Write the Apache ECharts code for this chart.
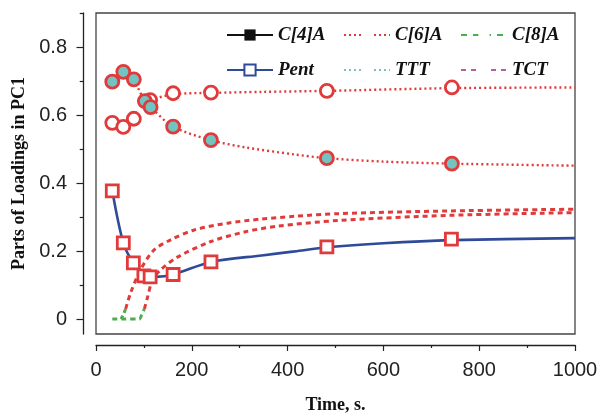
<!DOCTYPE html>
<html>
<head>
<meta charset="utf-8">
<script src="https://cdn.jsdelivr.net/npm/echarts@6/dist/echarts.min.js"></script>
<style>html,body{margin:0;padding:0;background:#fff;}#c{width:602px;height:416px;}</style>
</head>
<body>
<div id="c"></div>
<script>
// ---- data ----
var xTickLabels = [0, 200, 400, 600, 800, 1000];
var yMajorTicks = [0, 0.2, 0.4, 0.6, 0.8];
var yMinorTicks = [0.1, 0.3, 0.5, 0.7, 0.9];

var filledX = [34, 57, 79, 102, 114, 161, 240, 482, 743];
var filledY = [0.698, 0.727, 0.705, 0.641, 0.623, 0.566, 0.526, 0.473, 0.457];
var hollowX = [34, 57, 79, 113, 161, 240, 482, 743];
var hollowY = [0.577, 0.565, 0.589, 0.644, 0.664, 0.666, 0.671, 0.681];

var upperFitX = [113, 161, 240, 346, 482, 743, 1000];
var upperFitY = [0.644, 0.661, 0.665, 0.668, 0.671, 0.679, 0.681];
var lowerFitX = [79, 102, 114, 161, 240, 311, 415, 482, 600, 743, 1000];
var lowerFitY = [0.705, 0.641, 0.623, 0.566, 0.526, 0.505, 0.484, 0.473, 0.463, 0.457, 0.451];

var pentX = [34, 57, 78, 100, 113, 161, 240, 482, 742];
var pentY = [0.377, 0.224, 0.165, 0.127, 0.124, 0.131, 0.168, 0.212, 0.235];
var pentFitX = [34, 57, 78, 100, 125, 161, 240, 346, 415, 482, 600, 742, 1000];
var pentFitY = [0.377, 0.224, 0.165, 0.131, 0.124, 0.131, 0.168, 0.187, 0.199, 0.211, 0.223, 0.232, 0.238];

var rise1X = [62, 72, 93, 121, 156, 205, 275, 345, 414, 508, 740, 1000];
var rise1Y = [0.030, 0.076, 0.145, 0.203, 0.233, 0.262, 0.282, 0.294, 0.302, 0.310, 0.318, 0.323];
var rise2X = [101, 107, 118, 135, 170, 240, 310, 379, 508, 740, 1000];
var rise2Y = [0.030, 0.061, 0.115, 0.145, 0.182, 0.228, 0.256, 0.273, 0.290, 0.305, 0.313];

var greenBaseX = [34, 60, 90, 96, 101];
var greenBaseY = [0, 0, 0, 0.015, 0.030];
var greenBranchX = [52, 56, 62];
var greenBranchY = [0, 0.010, 0.030];

var legendNames = ['C[4]A', 'C[6]A', 'C[8]A', 'Pent', 'TTT', 'TCT'];

// ---- styling ----
var RED = '#e03a3a', CYAN = '#72c4c3', BLUE = '#2f4a98', GREEN = '#4cae4c', MAG = '#b55fa0', BLK = '#111';
function pairs(xs, ys) { return xs.map(function (x, i) { return [x, ys[i]]; }); }

var legendText = { fontFamily: 'Liberation Serif', fontStyle: 'italic', fontWeight: 'bold', fontSize: 19, color: '#111', lineHeight: 20 };
function legendCol(left, names) {
  return { show: true, orient: 'vertical', left: left, top: 25, itemWidth: 46, itemHeight: 14, itemGap: 15,
    data: names, textStyle: legendText, selectedMode: false, padding: 0 };
}
function dummy(name, lineStyle, symbol, itemStyle) {
  return { name: name, type: 'line', data: [], symbol: symbol, symbolSize: 10, lineStyle: lineStyle, itemStyle: itemStyle, silent: true };
}
function curve(name, xs, ys, color, width, type, z) {
  return { name: name, type: 'line', data: pairs(xs, ys), symbol: 'none', smooth: 0.3,
    lineStyle: { color: color, width: width, type: type }, z: z };
}

var chart = echarts.init(document.getElementById('c'), null, { renderer: 'canvas' });
var axisFont = { fontFamily: 'Liberation Sans', fontSize: 20, color: '#222' };
chart.setOption({
  animation: false,
  backgroundColor: '#fff',
  grid: { left: 96, right: 27, top: 13, bottom: 82, show: true, borderColor: '#444', borderWidth: 1.3,
    backgroundColor: 'transparent', outerBoundsMode: 'none', containLabel: false },
  legend: [
    legendCol(226, [legendNames[0], legendNames[3]]),
    legendCol(343, [legendNames[1], legendNames[4]]),
    legendCol(460, [legendNames[2], legendNames[5]])
  ],
  xAxis: {
    type: 'value', min: 0, max: 1000, interval: 200, offset: 11, position: 'bottom',
    axisLine: { show: true, onZero: false, lineStyle: { color: '#222', width: 1.3 } },
    axisTick: { show: true, inside: false, length: 6, lineStyle: { color: '#222', width: 1.2 } },
    minorTick: { show: true, splitNumber: 2, length: 3, lineStyle: { color: '#222', width: 1.2 } },
    splitLine: { show: false },
    axisLabel: Object.assign({ margin: 15, customValues: xTickLabels, formatter: function (v) { return String(v); } }, axisFont),
    name: 'Time, s.', nameLocation: 'middle', nameGap: 51,
    nameTextStyle: { fontFamily: 'Liberation Serif', fontWeight: 'bold', fontSize: 18, color: '#111' }
  },
  yAxis: [{
    type: 'value', min: -0.044, max: 0.9, offset: 13, position: 'left',
    axisLine: { show: true, onZero: false, lineStyle: { color: '#222', width: 1.3 } },
    axisTick: { show: true, inside: false, length: 6.5, customValues: yMajorTicks, lineStyle: { color: '#222', width: 1.2 } },
    splitLine: { show: false },
    axisLabel: Object.assign({ margin: 16, customValues: yMajorTicks, formatter: function (v) { return String(v); } }, axisFont),
    name: 'Parts of Loadings in PC1', nameLocation: 'middle', nameGap: 53, nameRotate: 90,
    nameTextStyle: { fontFamily: 'Liberation Serif', fontWeight: 'bold', fontSize: 18, color: '#111' }
  }, {
    type: 'value', min: -0.044, max: 0.9, offset: 13, position: 'left',
    axisLine: { show: false, onZero: false },
    axisTick: { show: true, inside: false, length: 3.3, customValues: yMinorTicks, lineStyle: { color: '#222', width: 1.2 } },
    splitLine: { show: false },
    axisLabel: { show: false }
  }],
  series: [
    // legend-only entries
    dummy('C[4]A', { color: BLK, width: 3.2 }, 'rect', { color: BLK }),
    dummy('Pent', { color: BLUE, width: 3.5 }, 'rect', { color: '#fff', borderColor: BLUE, borderWidth: 2.5 }),
    dummy('C[6]A', { color: RED, width: 3, type: [2, 3] }, 'rect', { color: '#fff', borderWidth: 0 }),
    dummy('TTT', { color: CYAN, width: 3, type: [2, 3] }, 'rect', { color: '#fff', borderWidth: 0 }),
    dummy('C[8]A', { color: GREEN, width: 3.5, type: [6, 6] }, 'rect', { color: '#fff', borderWidth: 0 }),
    dummy('TCT', { color: MAG, width: 5, type: [5, 5] }, 'rect', { color: '#fff', borderWidth: 0 }),
    // plotted curves
    curve('greenBase', greenBaseX, greenBaseY, GREEN, 3, [5, 4], 3),
    curve('greenBranch', greenBranchX, greenBranchY, GREEN, 3, [4, 3], 3),
    curve('rise1', rise1X, rise1Y, RED, 3, [5, 4], 3),
    curve('rise2', rise2X, rise2Y, RED, 3, [5, 4], 3),
    curve('upperFit', upperFitX, upperFitY, RED, 2.4, [2, 3], 3),
    curve('lowerFit', lowerFitX, lowerFitY, RED, 2.4, [2, 3], 3),
    curve('pentFit', pentFitX, pentFitY, BLUE, 2.6, 'solid', 4),
    // markers
    { name: 'pentPts', type: 'scatter', data: pairs(pentX, pentY), symbol: 'rect', symbolSize: 12,
      itemStyle: { color: '#fff', borderColor: RED, borderWidth: 2.8, opacity: 1 }, z: 6 },
    { name: 'hollowPts', type: 'scatter', data: pairs(hollowX, hollowY), symbol: 'circle', symbolSize: 13,
      itemStyle: { color: '#fff', borderColor: RED, borderWidth: 2.8, opacity: 1 }, z: 6 },
    { name: 'filledPts', type: 'scatter', data: pairs(filledX, filledY), symbol: 'circle', symbolSize: 13,
      itemStyle: { color: CYAN, borderColor: RED, borderWidth: 2.8, opacity: 1 }, z: 6 }
  ]
});
</script>
</body>
</html>
